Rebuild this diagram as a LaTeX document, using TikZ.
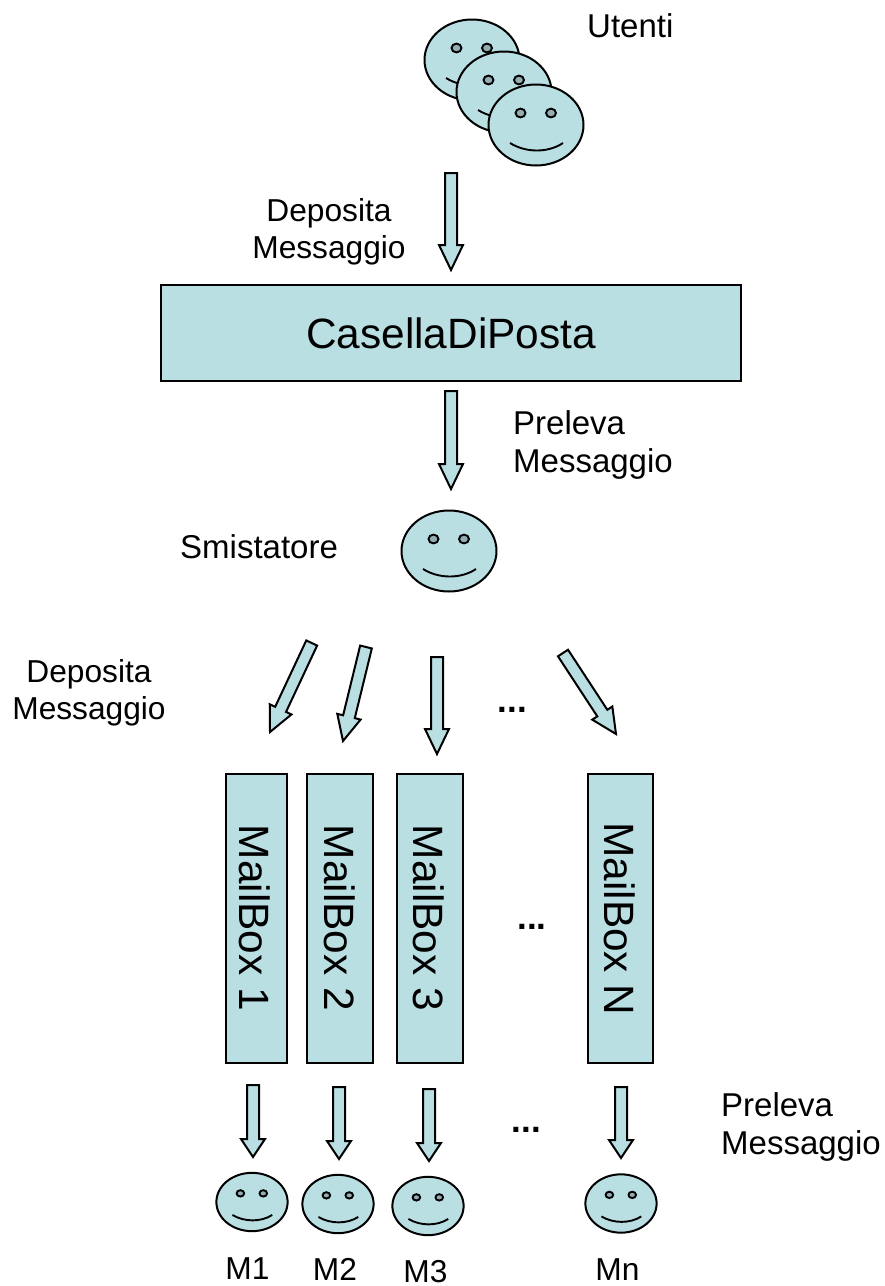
\documentclass[tikz,border=0pt]{standalone}
\usepackage{fontspec}
\setmainfont{Liberation Sans}
\definecolor{fillc}{HTML}{B9DFE3}
\definecolor{eyec}{HTML}{93AEB2}
\tikzset{
  shapeline/.style={draw=black,line width=2pt,fill=fillc,line join=miter},
  lbl/.style={inner sep=0pt,font=\fontsize{31.7}{37}\selectfont,align=left},
  lblw/.style={inner sep=0pt,font=\fontsize{33}{38}\selectfont,align=left},
  lblc/.style={lbl,align=center},
  mlbl/.style={inner sep=0pt,anchor=base,font=\fontsize{31.7}{37}\selectfont},
  big/.style={font=\fontsize{42.4}{50}\selectfont,text=black},
  boxc/.style={shapeline,inner sep=0pt,big},
  dots/.style={inner sep=0pt,anchor=base,font=\bfseries\fontsize{35}{38}\selectfont}
}
% block arrow: name, start, tip, head length, head half width
\newcommand{\blockarrow}[5]{%
  \coordinate (#1s) at (#2);\coordinate (#1t) at (#3);
  \path let \p1=($(#1t)-(#1s)$),\n1={atan2(\y1,\x1)},\n2={veclen(\x1,\y1)} in
    [shift={(#1s)},rotate=\n1,y=1pt,x=1pt]
    coordinate (#1a) at (0,6)
    coordinate (#1b) at (\n2-#4,6)
    coordinate (#1c) at (\n2-#4,#5)
    coordinate (#1d) at (\n2,0)
    coordinate (#1e) at (\n2-#4,-#5)
    coordinate (#1f) at (\n2-#4,-6)
    coordinate (#1g) at (0,-6);
  \draw[shapeline] (#1a)--(#1b)--(#1c)--(#1d)--(#1e)--(#1f)--(#1g)--cycle;
}
% smiley: name, cx, cy, xscale, yscale
\newcommand{\smiley}[5]{%
  \begin{scope}[shift={(#2,#3)},xscale=#4,yscale=#5]
    \node[inner sep=0pt] (#1) at (0,0) {};
    \draw[shapeline] (0,0) ellipse [x radius=47.5,y radius=40.5];
    \draw[draw=black,line width=1.9pt,fill=eyec] (-15.5,-12) ellipse [x radius=5,y radius=4.4];
    \draw[draw=black,line width=1.9pt,fill=eyec] (15,-12) ellipse [x radius=5,y radius=4.4];
    \draw[black,line width=1.9pt] (-26,18) .. controls (-10,28) and (12,28) .. (27,18);
  \end{scope}
}
\usetikzlibrary{calc}
\begin{document}
\begin{tikzpicture}[x=1pt,y=-1pt]
\useasboundingbox (0,0) rectangle (885,1286);
% users
\smiley{uA}{472}{60}{1}{1}
\smiley{uB}{504}{92}{1}{1}
\smiley{uC}{536}{125}{1}{1}
\node[lblw,anchor=west] (utenti) at (587,26) {Utenti};
\blockarrow{aA}{451,173}{451,270}{25}{12}
\node[lblc] (dep1) at (329,231.5) {Deposita\\Messaggio};
% casella
\node[boxc,minimum width=580pt,minimum height=96pt] (casella) at (451,333) {CasellaDiPosta};
\blockarrow{aB}{451,391}{451,489}{25}{12}
\node[lblw,anchor=west] (pre1) at (513,444.5) {Preleva\\Messaggio};
% smistatore
\smiley{sm}{449}{551}{1}{1}
\node[lblw,anchor=west] (smist) at (180,547) {Smistatore};
% fan
\node[lblc] (dep2) at (89,693) {Deposita\\Messaggio};
\blockarrow{fA}{311.7,643}{270,732}{25}{12}
\blockarrow{fB}{366,647}{343,741}{25}{12}
\blockarrow{fC}{437,657}{437,754}{25}{12}
\blockarrow{fD}{563,653}{616,734}{25}{12}
\node[dots] (dotsA) at (512.5,712) {...};
% mailboxes
\node[boxc,minimum width=61pt,minimum height=289pt] (mb1) at (256.5,918.5) {};
\node[boxc,minimum width=66pt,minimum height=289pt] (mb2) at (340,918.5) {};
\node[boxc,minimum width=66pt,minimum height=289pt] (mb3) at (430,918.5) {};
\node[boxc,minimum width=65pt,minimum height=289pt] (mbn) at (620.5,918.5) {};
\node[big,inner sep=0pt,rotate=-90] (t1) at (255,918) {MailBox 1};
\node[big,inner sep=0pt,rotate=-90] (t2) at (340,918) {MailBox 2};
\node[big,inner sep=0pt,rotate=-90] (t3) at (429,918) {MailBox 3};
\node[big,inner sep=0pt,rotate=-90] (tn) at (620,919) {MailBox N};
\node[dots] (dotsB) at (532,929) {...};
% bottom arrows
\blockarrow{bA}{253,1085}{253,1157}{18}{12}
\blockarrow{bB}{339,1087}{339,1159}{18}{12}
\blockarrow{bC}{429,1089}{429,1161}{18}{12}
\blockarrow{bD}{621,1087}{621,1158}{18}{12}
\node[dots] (dotsC) at (526.5,1132) {...};
\node[lblw,anchor=west] (pre2) at (721,1127) {Preleva\\Messaggio};
% bottom faces
\smiley{mA}{252}{1202}{0.75}{0.72}
\smiley{mB}{338}{1204}{0.75}{0.72}
\smiley{mC}{428}{1206}{0.75}{0.72}
\smiley{mD}{621}{1203.5}{0.75}{0.72}
\node[mlbl] (m1) at (247.5,1279) {M1};
\node[mlbl] (m2) at (335,1280) {M2};
\node[mlbl] (m3) at (425.5,1282.5) {M3};
\node[mlbl] (mn) at (617.5,1280) {Mn};
\end{tikzpicture}
\end{document}
